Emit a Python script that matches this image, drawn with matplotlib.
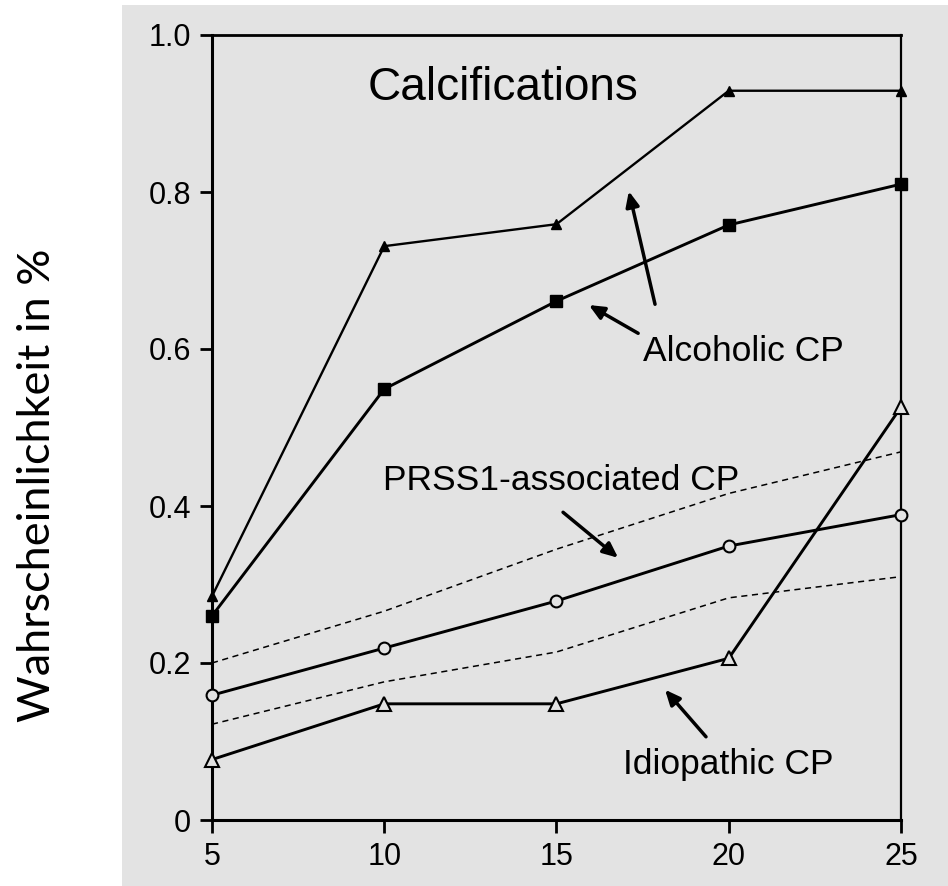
import numpy as np
import matplotlib
matplotlib.use("Agg")
import matplotlib.pyplot as plt
from matplotlib.patches import Rectangle

# years of disease duration
years = [5, 10, 15, 20, 25]

# probability of calcifications
alcoholic_upper = [0.285, 0.731, 0.759, 0.929, 0.929]
alcoholic = [0.26, 0.549, 0.661, 0.758, 0.81]
prss1 = [0.159, 0.219, 0.279, 0.349, 0.389]
prss1_ci_upper = [0.20, 0.266, 0.345, 0.416, 0.469]
prss1_ci_lower = [0.122, 0.176, 0.214, 0.283, 0.31]
idiopathic = [0.077, 0.148, 0.148, 0.206, 0.526]

y_ticks = [0, 0.2, 0.4, 0.6, 0.8, 1.0]
y_ticklabels = ["0", "0.2", "0.4", "0.6", "0.8", "1.0"]

W, H = 948, 886
fig = plt.figure(figsize=(W / 100, H / 100), dpi=100, facecolor="white")

# gray panel behind the plot
fig.patches.append(Rectangle((122 / W, 0), 1 - 122 / W, 1 - 5 / H,
                             transform=fig.transFigure, facecolor="#e3e3e3",
                             edgecolor="none", zorder=-10))

ax = fig.add_axes([212 / W, 1 - 820 / H, 689 / W, 785 / H])
ax.set_facecolor("#e3e3e3")

font = "Liberation Sans"

ax.plot(years, prss1_ci_upper, color="black", lw=1.1, ls=(0, (4, 3)), clip_on=False)
ax.plot(years, prss1_ci_lower, color="black", lw=1.1, ls=(0, (4, 3)), clip_on=False)
ax.plot(years, alcoholic_upper, color="black", lw=1.7, marker="^", ms=7,
        mfc="black", clip_on=False, zorder=3)
ax.plot(years, alcoholic, color="black", lw=2.1, marker="s", ms=8.5,
        mfc="black", clip_on=False, zorder=3)
ax.plot(years, prss1, color="black", lw=2.1, marker="o", ms=8.5,
        mfc="#e3e3e3", mew=1.5, clip_on=False, zorder=3)
ax.plot(years, idiopathic, color="black", lw=2.1, marker="^", ms=10,
        mfc="#e3e3e3", mew=1.5, clip_on=False, zorder=3)

ax.set_xlim(5, 25)
ax.set_ylim(0, 1)
ax.set_xticks(years)
ax.set_yticks(y_ticks)
ax.set_yticklabels(y_ticklabels)
for lab in ax.get_xticklabels() + ax.get_yticklabels():
    lab.set_fontfamily(font)
    lab.set_fontsize(22)
ax.tick_params(axis="both", direction="out", length=9, width=2, pad=6)
ax.tick_params(axis="x", pad=7)

ax.spines["left"].set_linewidth(2.2)
ax.spines["bottom"].set_linewidth(2.2)
ax.spines["right"].set_linewidth(1.6)
ax.spines["top"].set_linewidth(2.0)
ax.spines["top"].set_linestyle((0, (1, 1)))

# labels inside the plot
ax.text(9.53, 0.917, "Calcifications", fontsize=33, family=font, va="baseline")
ax.text(17.51, 0.585, "Alcoholic CP", fontsize=25.5, family=font, va="baseline")
ax.text(9.96, 0.420, "PRSS1-associated CP", fontsize=25.5, family=font, va="baseline")
ax.text(16.93, 0.059, "Idiopathic CP", fontsize=25.5, family=font, va="baseline")

arrow = dict(arrowstyle="-|>,head_length=0.9,head_width=0.4", color="black",
             lw=2.5, shrinkA=0, shrinkB=0)
ax.annotate("", xy=(17.10, 0.801), xytext=(17.86, 0.657), arrowprops=arrow)
ax.annotate("", xy=(15.94, 0.656), xytext=(17.37, 0.620), arrowprops=arrow)
ax.annotate("", xy=(16.79, 0.334), xytext=(15.19, 0.392), arrowprops=arrow)
ax.annotate("", xy=(18.15, 0.166), xytext=(19.34, 0.106), arrowprops=arrow)

fig.text(38 / W, 1 - 485 / H, "Wahrscheinlichkeit in %", rotation=90,
         fontsize=32.5, family="Lato", ha="center", va="center")

fig.savefig("out.png", dpi=100)
